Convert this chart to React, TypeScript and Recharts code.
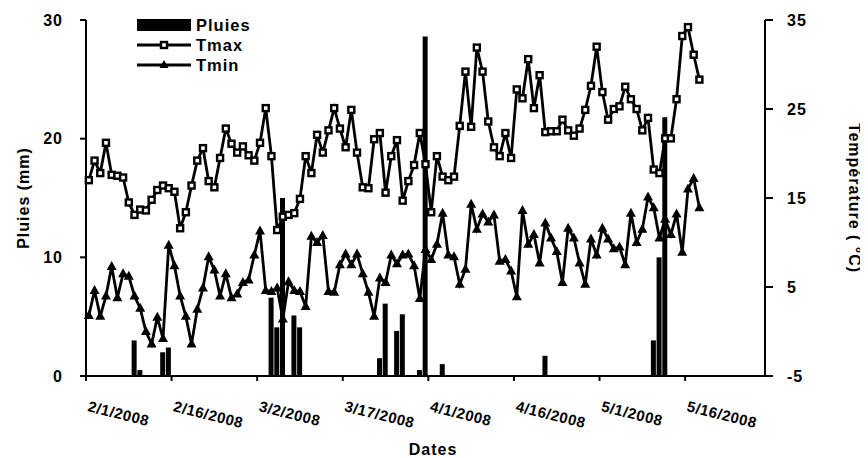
import React from 'react';
import { ComposedChart, Bar, Line, XAxis, YAxis } from 'recharts';

const FONT = '"Liberation Sans", Arial, sans-serif';

// x axis: days counted from 2/1/2008
const tickDays = [0, 15, 30, 45, 60, 75, 90, 105];
const tickLabels = ['2/1/2008', '2/16/2008', '3/2/2008', '3/17/2008', '4/1/2008', '4/16/2008', '5/1/2008', '5/16/2008'];

const pluiesTicks = [0, 10, 20, 30];
const tempTicks = [-5, 5, 15, 25, 35];

// daily rain (mm), 2/1 .. 5/17
const pluies = [
  0, 0, 0, 0, 0, 0, 0, 0, 3.0, 0.5,
  0, 0, 0, 2.0, 2.4, 0, 0, 0, 0, 0,
  0, 0, 0, 0, 0, 0, 0, 0, 0, 0,
  0, 0, 6.6, 4.1, 15.0, 0, 5.1, 4.1, 0, 0,
  0, 0, 0, 0, 0, 0, 0, 0, 0, 0,
  0, 1.5, 6.1, 0, 3.8, 5.2, 0, 0, 0.5, 28.6,
  0, 0, 1.0, 0, 0, 0, 0, 0, 0, 0,
  0, 0, 0, 0, 0, 0, 0, 0, 0, 0,
  1.7, 0, 0, 0, 0, 0, 0, 0, 0, 0,
  0, 0, 0, 0, 0, 0, 0, 0, 0, 3.0,
  10.0, 21.8, 0, 0, 0, 0, 0, 0,
];

const tmax = [
  17.0, 19.2, 17.8, 21.2, 17.6, 17.5, 17.3, 14.5, 13.1, 13.7,
  13.6, 14.8, 15.9, 16.4, 16.1, 15.7, 11.6, 13.4, 16.4, 19.2,
  20.6, 16.9, 16.2, 19.5, 22.8, 21.1, 20.1, 20.8, 19.8, 19.2,
  21.2, 25.1, 19.7, 11.4, 12.9, 13.1, 13.3, 14.9, 19.7, 17.8,
  22.1, 20.1, 22.6, 25.1, 22.8, 20.7, 24.9, 20.1, 16.2, 16.1,
  21.6, 22.3, 15.6, 19.7, 21.5, 14.7, 16.9, 18.7, 22.3, 18.8,
  13.4, 19.7, 17.4, 17.0, 17.4, 23.1, 29.2, 23.0, 31.9, 29.2,
  23.6, 20.7, 19.7, 22.3, 19.5, 27.2, 26.2, 30.6, 25.1, 28.8,
  22.4, 22.5, 22.5, 23.8, 22.6, 22.0, 22.8, 24.9, 27.6, 32.0,
  26.9, 23.8, 25.0, 25.3, 27.5, 26.1, 25.0, 22.6, 24.0, 18.2,
  17.8, 21.7, 21.7, 26.1, 33.2, 34.2, 31.1, 28.3,
];

const tmin = [
  1.8, 4.6, 1.7, 4.0, 7.3, 3.8, 6.5, 6.2, 4.0, 2.6,
  0.0, -1.4, 1.6, -0.8, 9.7, 7.4, 4.0, 1.7, -1.4, 2.5,
  4.9, 8.4, 6.9, 4.0, 6.5, 3.8, 4.2, 5.5, 5.8, 8.6,
  11.3, 4.6, 4.5, 4.9, 1.4, 5.6, 4.6, 4.5, 2.8, 10.7,
  10.0, 10.8, 4.5, 4.4, 7.5, 8.7, 7.5, 8.7, 6.5, 4.4,
  1.7, 6.0, 5.5, 8.6, 7.6, 8.6, 8.7, 7.4, 3.7, 9.2,
  8.1, 9.8, 13.3, 8.6, 8.4, 5.3, 7.0, 14.3, 11.5, 13.2,
  12.3, 13.1, 7.9, 8.1, 6.8, 3.9, 13.6, 9.8, 10.9, 7.7,
  12.2, 10.5, 9.0, 5.5, 11.6, 10.5, 7.7, 5.3, 10.4, 8.6,
  11.6, 10.4, 9.3, 9.5, 7.5, 13.3, 10.0, 11.5, 15.1, 13.9,
  10.5, 12.6, 10.9, 13.2, 8.9, 16.0, 17.2, 13.9,
];

// each daily value sits in the middle of its day
const data = tmax.map((v, i) => ({
  day: i + 0.5,
  pluies: pluies[i],
  tmax: v,
  tmin: tmin[i],
}));

const SquareDot = (props: any) => {
  const { cx, cy, index } = props;
  if (cx == null || cy == null) return <g key={`sq-${index}`} />;
  return (
    <rect key={`sq-${index}`} x={cx - 3} y={cy - 3} width={6} height={6}
      fill="#fff" stroke="#000" strokeWidth={2.4} />
  );
};

const TriangleDot = (props: any) => {
  const { cx, cy, index } = props;
  if (cx == null || cy == null) return <g key={`tr-${index}`} />;
  return (
    <path key={`tr-${index}`} d={`M${cx},${cy - 5.5} L${cx + 5},${cy + 3.5} L${cx - 5},${cy + 3.5} Z`}
      fill="#000" />
  );
};

const DateTick = (props: any) => {
  const { x, y, payload } = props;
  const label = tickLabels[tickDays.indexOf(payload.value)];
  const tx = x + 1;
  const ty = y + 28;
  return (
    <text x={tx} y={ty} transform={`rotate(14 ${tx} ${ty})`} textAnchor="start"
      fill="#000" fontFamily={FONT} fontWeight="bold" fontSize={15} letterSpacing={0.5}>
      {label}
    </text>
  );
};

const legendRow: React.CSSProperties = { display: 'flex', alignItems: 'center', height: 20 };
const legendText: React.CSSProperties = {
  marginLeft: 5, fontFamily: FONT, fontWeight: 'bold', fontSize: 16.5, letterSpacing: 1, color: '#000',
};

const ChartLegend = () => (
  <div style={{ position: 'absolute', left: 129, top: 7 }}>
    <div style={legendRow}>
      <svg width={54} height={20}><rect x={0} y={4} width={54} height={12} fill="#000" /></svg>
      <span style={legendText}>Pluies</span>
    </div>
    <div style={legendRow}>
      <svg width={54} height={20}>
        <line x1={0} y1={10} x2={54} y2={10} stroke="#000" strokeWidth={2.8} />
        <rect x={24} y={7} width={6} height={6} fill="#fff" stroke="#000" strokeWidth={2.4} />
      </svg>
      <span style={legendText}>Tmax</span>
    </div>
    <div style={legendRow}>
      <svg width={54} height={20}>
        <line x1={0} y1={10} x2={54} y2={10} stroke="#000" strokeWidth={2.8} />
        <path d="M27,5 L31.5,13 L22.5,13 Z" fill="#000" />
      </svg>
      <span style={legendText}>Tmin</span>
    </div>
  </div>
);

const axisStyle = { stroke: '#000', strokeWidth: 2 };
const tickStyle = { fill: '#000', fontSize: 16, fontWeight: 'bold', fontFamily: FONT, letterSpacing: 1 };
const titleStyle: React.CSSProperties = {
  position: 'absolute',
  fontFamily: FONT,
  fontWeight: 'bold',
  fontSize: 16,
  lineHeight: '18px',
  letterSpacing: 1,
  whiteSpace: 'nowrap',
  color: '#000',
};

export default function App() {
  return (
    <div style={{ position: 'relative', width: 860, height: 450, overflow: 'hidden', background: '#fff' }}>
      <ComposedChart width={860} height={450} data={data}
        margin={{ top: 12, right: 43, left: 18, bottom: 32 }}>
        <XAxis type="number" dataKey="day" domain={[0, 119]} ticks={tickDays}
          height={50} axisLine={axisStyle} tickLine={axisStyle} tickSize={5}
          tick={DateTick} interval={0} />
        <YAxis yAxisId="left" domain={[0, 30]} ticks={pluiesTicks} width={60}
          axisLine={axisStyle} tickLine={axisStyle} tickSize={6} tickMargin={17}
          tick={tickStyle} />
        <YAxis yAxisId="right" orientation="right" domain={[-5, 35]} ticks={tempTicks} width={60}
          axisLine={axisStyle} tickLine={axisStyle} tickSize={8} tickMargin={14}
          tick={tickStyle} />
        <Bar yAxisId="left" dataKey="pluies" name="Pluies" fill="#000" barSize={5}
          isAnimationActive={false} />
        <Line yAxisId="right" type="linear" dataKey="tmax" name="Tmax" stroke="#000"
          strokeWidth={2.8} dot={SquareDot} activeDot={false} isAnimationActive={false} />
        <Line yAxisId="right" type="linear" dataKey="tmin" name="Tmin" stroke="#000"
          strokeWidth={2.8} dot={TriangleDot} activeDot={false} isAnimationActive={false} />
      </ComposedChart>
      <ChartLegend />
      <div style={{ ...titleStyle, left: 16, top: 190, transform: 'translate(-50%, -50%) rotate(-90deg)' }}>
        Pluies (mm)
      </div>
      <div style={{ ...titleStyle, left: 846, top: 190, transform: 'translate(-50%, -50%) rotate(90deg)' }}>
        Température ( °C)
      </div>
      <div style={{ ...titleStyle, left: 425, top: 442, transform: 'translate(-50%, -50%)' }}>
        Dates
      </div>
    </div>
  );
}
